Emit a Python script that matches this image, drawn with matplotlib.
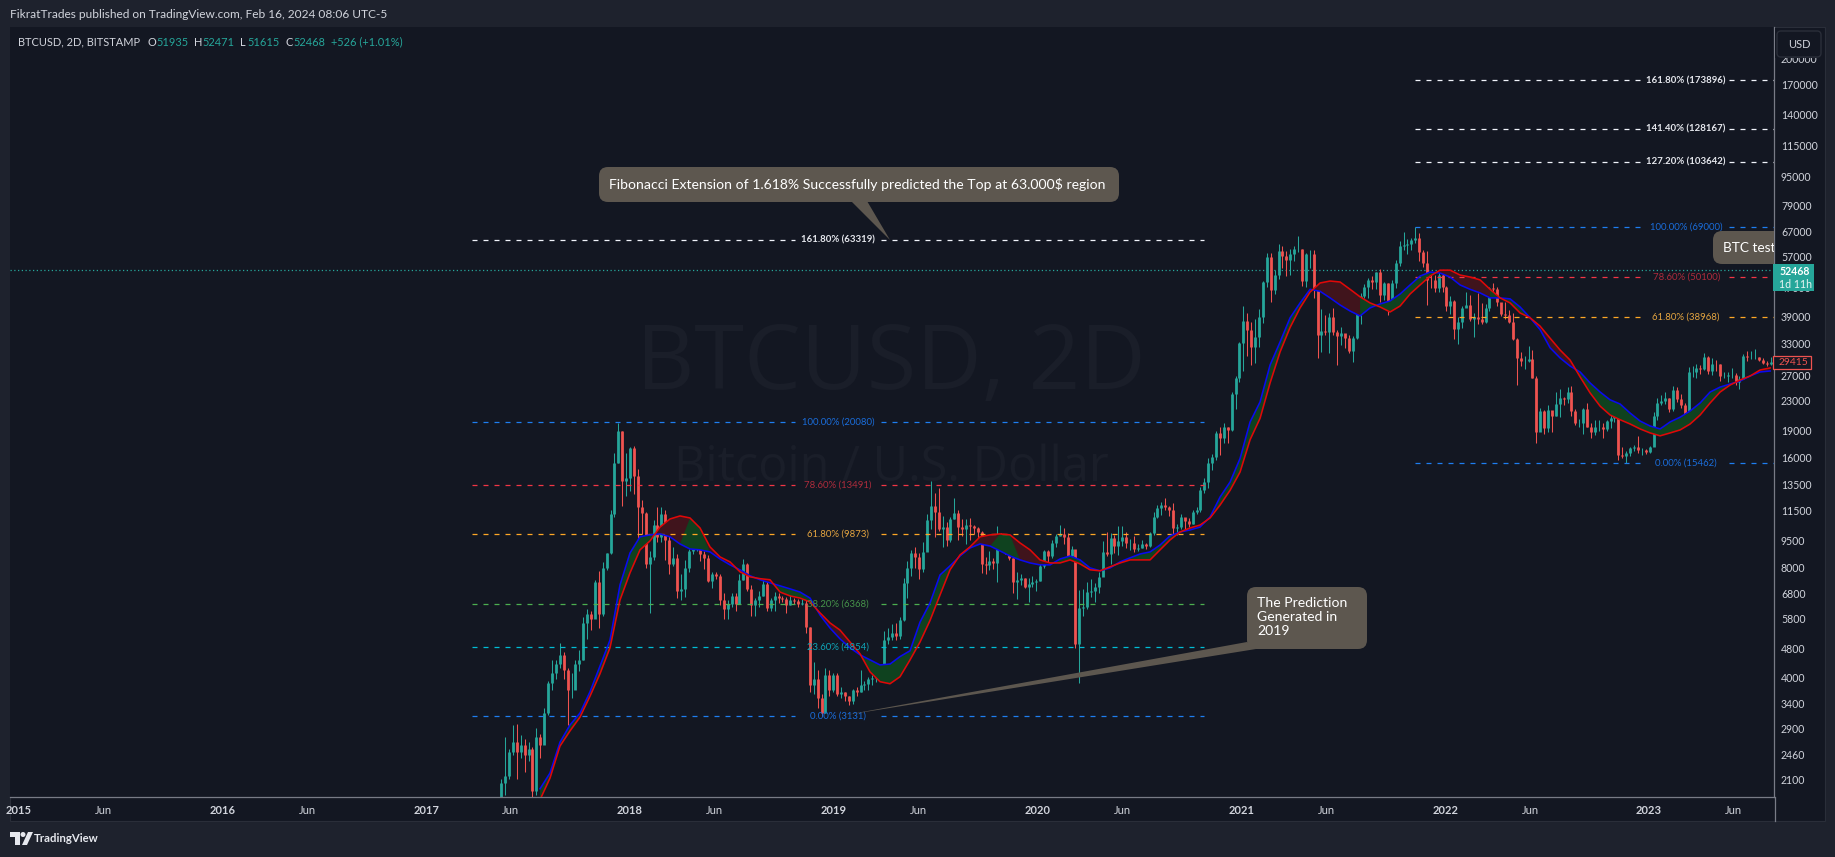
import numpy as np
import matplotlib
matplotlib.use("Agg")
import matplotlib.pyplot as plt
from matplotlib.patches import FancyBboxPatch, Polygon, Rectangle, Circle
from matplotlib.transforms import Affine2D

W, H = 1835, 857
plt.rcParams['font.family'] = ['Lato', 'DejaVu Sans']

BG = '#131722'
BAR = '#1e222d'
TEXT = '#d1d4dc'
UP = '#26a69a'
DOWN = '#ef5350'
NOTE = '#5d574f'

# weekly candles, first week starts 2017.349
first_week = 2017.349
first_open = 1550
week_close = [
    # 2017
    1800,2050,2150,2500,2650,2500,2600,2450,2550,1950,2750,2600,3200,3850,4100,4350,4600,4200,3700,3700,4350,4450,5650,5950,5800,7300,5950,8000,8750,11200,15500,19000,13800,14100,
    # 2018
    17000,14300,11700,11300,8200,8550,10500,9700,11200,9500,8200,8500,6900,7000,8000,8900,9300,9700,8700,8500,7350,7700,7600,6500,6150,6350,6700,6350,7400,8200,7000,6300,6500,6700,7200,6200,6500,6700,6600,6580,6300,6500,6480,6350,6400,5500,3800,3950,3500,3200,4050,3700,4050,
    # 2019
    3600,3650,3550,3450,3680,3650,3800,3830,3950,3990,4000,4100,5050,5150,5280,5200,5750,7250,8000,8750,8550,7950,8850,10800,11800,11400,10200,10350,9500,10900,11300,10350,10200,10500,10400,10300,10000,8200,8150,8350,8250,9250,9150,8800,8500,7300,7400,7500,7100,7200,7300,7350,
    # 2020
    8100,8900,8600,9350,9800,9900,9700,8600,9000,4950,6200,6250,6850,6900,7100,7550,8850,8700,9650,9200,9450,9700,9350,9350,9000,9050,9300,9150,9950,11050,11650,11850,11700,11500,10250,10350,11050,10750,10550,11350,11500,13100,13750,15500,16050,18700,18200,19400,19150,23900,26500,33000,
    # 2021
    38000,36000,32300,34300,39000,48500,57000,46200,50800,59000,57500,55800,58200,60000,60000,49000,58000,58000,46500,34700,35700,35500,39000,35500,34500,35300,34200,31500,34200,41500,44600,47000,49300,48800,51700,44800,48300,42700,48200,54900,60900,61300,61800,63300,64400,58700,54700,49400,49300,46700,50800,47200,
    # 2022
    41700,43100,36200,37900,41400,42100,38400,39100,38400,37800,41300,46800,46400,42800,39700,39400,37700,34000,30000,29500,29500,29900,26600,18900,21500,19300,21600,20800,22500,23300,23200,24300,21500,20000,20000,21800,19400,18900,19400,19400,19200,20200,20600,21000,16300,16200,16500,17000,17100,16800,16800,16600,
    # 2023
    17100,20800,22700,23000,23400,21800,24600,23200,22400,20500,27500,27500,28200,28000,30300,27800,29000,28900,26800,26800,27000,27100,25900,26300,30400,30300,30300,30300,29800,29200,29000,29400,
]
week_high = [
    # 2017
    1850,2100,2750,2550,2950,2970,2780,2700,2650,2580,2900,2800,3300,3900,4450,4450,4980,4700,4250,4100,4450,4750,5850,6150,6100,7400,7850,8300,8800,11500,16500,20000,19000,16500,
    # 2018
    17200,17300,14900,12300,11400,8900,10800,11700,11700,11500,9800,9100,8700,7700,8400,9000,9800,9950,9900,8900,8650,7800,7800,7680,6800,6500,6800,6800,7700,8450,8250,7150,6600,6900,7400,7400,6600,6850,6800,6700,6650,6800,6600,6550,6550,6500,5500,4400,4200,3600,4250,4200,4100,
    # 2019
    4100,3750,3650,3550,3720,3750,4200,3900,4000,4050,4100,4250,5350,5450,5600,5650,5850,7500,8350,8950,9100,8800,9400,11200,13800,12800,13200,11100,10700,11000,12400,11500,10900,10850,10950,10500,10350,10100,8550,8900,8500,10400,9950,9500,8900,8500,7800,7700,7500,7500,7600,7450,
    # 2020
    8250,8950,8950,9550,9900,10500,10250,9950,9200,8200,6950,7000,7300,7450,7250,7800,9450,10050,9950,9850,10400,10400,10000,9600,9800,9300,9500,9350,10000,11400,11900,12150,12450,11800,12050,10550,11200,10950,10950,11500,11750,13350,14100,15950,16400,18950,19500,19900,19400,24300,26800,33300,
    # 2021
    41900,40100,37800,38500,40900,49000,58300,58300,52600,61800,61000,59000,60000,61100,65000,60000,58500,59500,59500,46500,40900,39500,39900,41300,36000,36500,35100,34700,34500,42500,45300,48100,49800,50500,51900,52900,48800,48400,49300,56000,62900,66900,63700,64200,69000,66300,59500,59100,51900,51000,51800,52100,
    # 2022
    47500,44500,43500,38900,41700,45800,44700,40000,45400,42500,42300,47200,48200,47200,41500,42900,40800,40000,34200,31300,30500,32400,31700,26900,21900,21700,22400,21300,24300,24700,23500,25100,25200,21800,20500,22000,22700,20000,20300,20400,19900,20400,21000,21500,21000,17100,16700,17200,17400,18400,17000,16900,
    # 2023
    17300,21400,23400,23800,24200,23400,25200,25000,23900,22600,28500,28700,29000,28800,31000,30500,30000,29800,29000,27600,27500,28300,27300,26800,30800,31400,31500,31800,30300,30000,29500,30200,
]
week_low = [
    # 2017
    1500,1700,1900,2100,2450,2100,2400,2200,2350,1850,1900,2400,2650,3150,3700,3950,4250,3950,2960,3500,3800,4150,4450,5100,5400,6050,5450,5900,7900,8700,11000,15500,11800,12600,
    # 2018
    13000,12700,9300,9900,8000,6000,8400,9400,9400,8400,7700,8100,6600,6500,6650,7800,8700,8900,8350,7950,7300,7050,7430,6300,5800,5800,6250,6100,6350,7400,6900,5900,5900,6250,6700,6100,6100,6100,6400,6450,6000,6300,6350,6250,6300,5300,3650,3600,3300,3131,3200,3550,3650,
    # 2019
    3550,3500,3450,3350,3380,3550,3650,3680,3700,3820,3880,3980,4100,4950,5050,5050,5100,5700,6600,7600,8000,7450,7800,8900,10200,9700,10100,9100,9200,9400,10900,9500,9800,9300,9500,9900,9600,7750,7700,7900,7950,7300,8950,8700,8400,6800,6550,7150,7050,6450,7100,6900,
    # 2020
    7350,8000,8250,8500,9100,9800,9300,8450,8550,4800,3850,5900,6150,6650,6450,6800,7650,8600,8200,8800,8650,9200,9050,8950,8850,8900,9050,9000,9100,9850,10950,11150,11500,11100,9900,9850,10200,10150,10350,10550,11200,11400,12800,13200,14850,15800,16300,17600,17600,19000,21800,25900,
    # 2021
    27700,30400,28800,29100,32300,37500,47000,43000,45000,49500,53200,50500,50900,55500,58900,47500,47000,53000,43900,30000,31200,34800,31000,34800,28800,32700,32100,31000,29300,34000,37400,43900,43900,46400,46500,42800,43400,39600,40700,46900,53900,59500,58000,59600,62300,55700,53500,42000,46700,45600,45600,45700,
    # 2022
    40600,39700,34000,32900,36300,41600,38000,34300,37200,37200,37600,40500,45100,41900,39200,38500,37600,33700,25400,28700,28000,29300,26500,17600,19600,18600,18800,18900,20800,20700,22400,22700,20800,19700,19500,18600,19400,18100,18500,19000,18200,19000,19300,20100,15800,16000,15500,16200,16700,16500,16300,16400,
    # 2023
    16500,17300,20400,22300,22500,21400,21500,22800,21900,19600,20200,26700,26600,27200,27900,27200,27000,27700,26000,26500,25900,26600,25400,24800,26300,29500,29900,29900,29500,29000,28700,28800,
]

# the two moving averages, read every ~18 days from 2017.558
ma_start = 2017.5584
ma_step = 0.04907
ma_blue = [
    1977,2184,2654,2960,3190,3650,4295,5060,7170,8775,
    9720,9840,9900,9720,9290,9000,8950,8835,8450,8140,
    7890,7600,7410,7265,7130,6995,6855,6600,5930,5460,
    5100,4820,4610,4465,4325,4350,4560,4730,5670,6400,
    7640,8090,8610,9060,9290,9170,8890,8610,8400,8240,
    8140,8140,8450,8610,8400,7985,7840,7985,8295,8510,
    8720,8835,9230,9780,10020,10150,10340,11020,12500,13740,
    15950,20080,22800,28790,33300,38800,42620,46450,45870,44000,
    42070,40500,39250,41300,42350,43170,45100,47750,50500,51800,
    51480,50200,47750,46450,45400,44000,44000,43730,41550,38800,
    36000,32100,30100,28600,27550,25700,24270,23100,22500,21250,
    20200,19580,19220,20090,20700,21530,22650,24270,25040,25530,
    26020,26860,27550,27720,
]
ma_red = [
    1844,2115,2590,2850,3110,3550,4090,4820,6520,7740,
    8950,9470,10340,10880,11090,10950,10280,9120,8560,8295,
    7790,7550,7460,7410,6855,6690,6600,6440,6010,5640,
    5390,5000,4640,4140,3890,3840,4015,4465,5000,5730,
    6730,7890,8670,9120,9720,9840,9900,9840,9350,8950,
    8400,8240,8240,8400,8190,7890,7840,8040,8240,8400,
    8400,8400,8950,9530,10020,10280,10470,10950,11880,13040,
    14640,17950,20560,25700,31270,36500,41300,45650,48350,48950,
    48650,46450,44300,42620,41550,40250,41800,45100,47750,50500,
    52430,52430,50840,50200,49300,46450,44000,42620,40000,38800,
    36800,34100,31650,29700,26700,24130,22200,20990,20370,19830,
    19220,18740,18400,18740,19100,19830,20990,22650,24270,25370,
    26190,26860,27900,28260,
]
# spots where the cloud is green although red sits on top
green_spans = [(2018.29, 2018.35), (2019.81, 2019.87), (2021.578, 2021.636), (2022.215, 2022.275)]

# fibonacci sets: start/end on the time axis, label centre, then levels
fib_a_range = (2017.225, 2020.817, 2019.021)
fib_a_levels = [63319, 20080, 13491, 9873, 6368, 4854, 3131]
fib_a_pct = ['161.80%', '100.00%', '78.60%', '61.80%', '38.20%', '23.60%', '0.00%']
fib_a_color = ['white', 'blue', 'red', 'orange', 'green', 'teal', 'blue']
fib_b_range = (2021.852, 2023.613, 2023.182)
fib_b_levels = [173896, 128167, 103642, 69000, 50100, 38968, 15462]
fib_b_pct = ['161.80%', '141.40%', '127.20%', '100.00%', '78.60%', '61.80%', '0.00%']
fib_b_color = ['white', 'white', 'white', 'blue', 'red', 'orange', 'blue']
fib_line = {'white': '#f0f3fa', 'blue': '#1e7ef0', 'red': '#f23645', 'orange': '#ffa726', 'green': '#4caf50', 'teal': '#00bcd4'}
fib_text = {'white': '#e6e8ee', 'blue': '#1a6ddb', 'red': '#ad2c3c', 'orange': '#e5a540', 'green': '#46934a', 'teal': '#0fa5b8'}

price_ticks = [2100, 2460, 2900, 3400, 4000, 4800, 5800, 6800, 8000, 9500, 11500, 13500, 16000, 19000,
               23000, 27000, 33000, 39000, 47000, 57000, 67000, 79000, 95000, 115000, 140000, 170000, 200000]
year_ticks = [2015, 2016, 2017, 2018, 2019, 2020, 2021, 2022, 2023]
june = 0.416
last_price = 52468
ma_last = 29415

fig = plt.figure(figsize=(W / 100, H / 100), dpi=100, facecolor=BAR)
px = Affine2D().scale(1, -1).translate(0, H)  # pixels from the top left

fig.add_artist(Rectangle((10, 27), 1815, 794, transform=px, fc=BG, ec='#2a2e39', lw=0.8, zorder=-1))
ax = fig.add_axes([10 / W, 1 - 797 / H, 1764 / W, 770 / H], facecolor=BG)
ax.set_yscale('log')
ax.set_xlim(2014.958, 2023.613)
ax.set_ylim(1877, 243800)

# big watermark
ax.text(891, 366, 'BTCUSD, 2D', transform=px, color='#1a1e29', fontsize=65, ha='center', va='center', family='Open Sans', zorder=0)
ax.text(891, 468, 'Bitcoin / U.S. Dollar', transform=px, color='#1a1e29', fontsize=35, ha='center', va='center', family='Open Sans', zorder=0)

# candles
closes = np.array(week_close, dtype=float)
highs = np.array(week_high, dtype=float)
lows = np.array(week_low, dtype=float)
opens = np.r_[first_open, closes[:-1]]
week_x = first_week + np.arange(len(closes)) * 7 / 365.25
colors = [UP if c >= o else DOWN for o, c in zip(opens, closes)]
ax.vlines(week_x, lows, highs, colors=colors, lw=0.75, zorder=2)
ax.vlines(week_x, np.minimum(opens, closes), np.maximum(opens, closes), colors=colors, lw=2.0, zorder=2)

# cloud and moving averages
blue = np.array(ma_blue, dtype=float)
red = np.array(ma_red, dtype=float)
ma_x = ma_start + np.arange(len(blue)) * ma_step
override = np.zeros(len(blue), dtype=bool)
for a, b in green_spans:
    override |= (ma_x >= a) & (ma_x <= b)
ax.fill_between(ma_x, blue, red, where=red > blue, color='#40141c', lw=0, interpolate=True, zorder=3)
ax.fill_between(ma_x, blue, red, where=(blue >= red) | override, color='#0f421f', lw=0, interpolate=True, zorder=3)
ax.plot(ma_x, blue, color='#0a0af0', lw=1.15, zorder=4)
ax.plot(ma_x, red, color='#e00808', lw=1.15, zorder=4)

ax.axhline(last_price, color=UP, lw=0.9, ls=(0, (1, 2)), zorder=1)


def draw_fib(span, levels, pcts, names):
    x0, x1, mid = span
    for level, pct, name in zip(levels, pcts, names):
        for a, b in ((x0, mid - 0.21), (mid + 0.21, x1)):
            ax.plot([a, b], [level, level], color=fib_line[name], lw=0.9, ls=(0, (4, 4.8)), zorder=3, dash_capstyle='butt')
        ax.text(mid, level, f'{pct} ({level})', color=fib_text[name], fontsize=6.9, ha='center', va='center',
                weight='bold' if name == 'white' else 'normal', zorder=5)


draw_fib(fib_a_range, fib_a_levels, fib_a_pct, fib_a_color)
draw_fib(fib_b_range, fib_b_levels, fib_b_pct, fib_b_color)


def bubble(x, y, w, h, tail, lines, tx, tys, size=10.1):
    ax.add_patch(Polygon(tail, closed=True, transform=px, fc=NOTE, ec='none', zorder=6))
    ax.add_patch(FancyBboxPatch((x, y), w, h, boxstyle='round,pad=0,rounding_size=9', transform=px, fc=NOTE, ec='none', zorder=6))
    for line, ty in zip(lines, tys):
        ax.text(tx, ty, line, transform=px, color='white', fontsize=size, va='center', ha='left', zorder=7, clip_on=True)


bubble(599, 167, 520, 35, [(851, 201), (867, 201), (890, 240)],
       ['Fibonacci Extension of 1.618% Successfully predicted the Top at 63.000$ region'], 609, [184.5])
bubble(1247, 587, 120, 62, [(1247, 642), (1256, 649), (840, 716)],
       ['The Prediction', 'Generated in', '2019'], 1257, [603, 617, 631])
bubble(1713, 231, 120, 33, [(1713, 240), (1713, 250), (1713, 245)], ['BTC test'], 1723, [247.5], size=9.8)

# axes
ax.set_xticks(sorted(year_ticks + [y + june for y in year_ticks]))
xlabels = []
for y in year_ticks:
    xlabels += [str(y), 'Jun']
ax.set_xticklabels(xlabels)
for lab in ax.get_xticklabels():
    lab.set_weight('bold' if lab.get_text() != 'Jun' else 'normal')
ax.tick_params(axis='x', length=0, pad=6, labelsize=8, labelcolor=TEXT)
ax.yaxis.tick_right()
ax.set_yticks(price_ticks)
ax.set_yticks([], minor=True)
ax.set_yticklabels([str(p) for p in price_ticks])
ax.tick_params(axis='y', length=0, pad=5, labelsize=7.6, labelcolor=TEXT)
for side in ('top', 'left'):
    ax.spines[side].set_visible(False)
for side in ('bottom', 'right'):
    ax.spines[side].set_color('#787b86')
    ax.spines[side].set_linewidth(0.9)
fig.add_artist(plt.Line2D([1774.5, 1774.5], [797, 821], transform=px, color='#787b86', lw=0.9))

# price axis extras
fig.add_artist(Rectangle((1775, 28), 49, 30, transform=px, fc=BG, ec='none', zorder=4))
fig.add_artist(FancyBboxPatch((1777, 31), 44, 26, boxstyle='round,pad=0,rounding_size=4', transform=px, fc=BG, ec='#2a2e39', lw=1, zorder=5))
fig.text(1799, 44.5, 'USD', transform=px, color=TEXT, fontsize=8, ha='center', va='center', zorder=6)
fig.add_artist(Rectangle((1773, 264), 41, 27, transform=px, fc=UP, ec='none', zorder=4))
fig.text(1779, 271.5, str(last_price), transform=px, color='white', fontsize=7.6, weight='bold', va='center', zorder=5)
fig.text(1779, 284, '1d 11h', transform=px, color='#e8f5f3', fontsize=7.6, va='center', zorder=5)
fig.add_artist(Rectangle((1773, 356), 38, 13, transform=px, fc=BG, ec=DOWN, lw=0.9, zorder=4))
fig.text(1779, 362.5, str(ma_last), transform=px, color=DOWN, fontsize=7.4, va='center', zorder=5)

# header and legend line
fig.text(10, 15, 'FikratTrades published on TradingView.com, Feb 16, 2024 08:06 UTC-5', transform=px, color=TEXT, fontsize=8.6, va='center')
legend_bits = [(18, 'BTCUSD, 2D, BITSTAMP', TEXT), (147, 'O', TEXT), (156, '51935', UP), (194, 'H', TEXT), (202, '52471', UP),
               (240, 'L', TEXT), (247, '51615', UP), (285, 'C', TEXT), (293, '52468', UP), (331, '+526 (+1.01%)', UP)]
for x, s, c in legend_bits:
    fig.text(x, 42, s, transform=px, color=c, fontsize=7.9, va='center')

# footer logo
fig.add_artist(Polygon([(10, 832), (20, 832), (20, 845), (15, 845), (15, 837), (10, 837)], transform=px, fc='#e6e8ee', ec='none'))
fig.add_artist(Circle((23, 834.5), 2.5, transform=px, fc='#e6e8ee', ec='none'))
fig.add_artist(Polygon([(28, 832), (33, 832), (27, 845), (22, 845)], transform=px, fc='#e6e8ee', ec='none'))
fig.text(34, 838.5, 'TradingView', transform=px, color='#e6e8ee', fontsize=8.2, weight='bold', va='center')

fig.savefig('out.png', dpi=100, facecolor=BAR)
